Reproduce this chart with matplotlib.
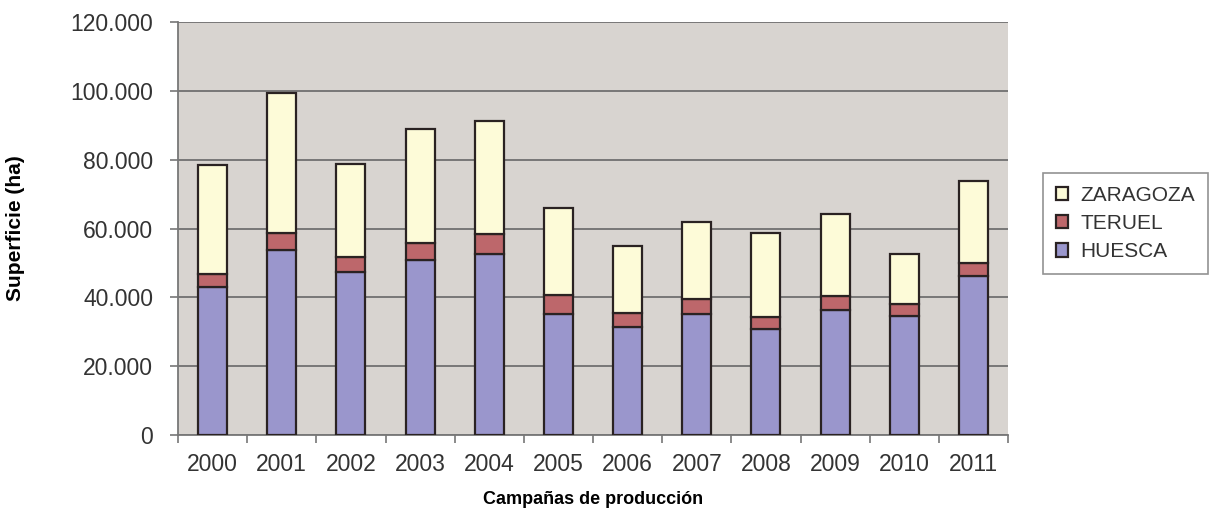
import numpy as np
import matplotlib.pyplot as plt
from matplotlib.ticker import FuncFormatter, FixedLocator

# Superficie por provincia (ha)
years = ["2000", "2001", "2002", "2003", "2004", "2005",
         "2006", "2007", "2008", "2009", "2010", "2011"]
huesca = [43000, 53800, 47500, 50900, 52500, 35200, 31300, 35200, 30700, 36300, 34700, 46200]
teruel = [3700, 4800, 4300, 4800, 5900, 5500, 4100, 4200, 3500, 4100, 3300, 3800]
zaragoza = [31800, 40700, 27000, 33200, 33000, 25200, 19500, 22600, 24600, 23700, 14500, 23800]

plt.rcParams['font.family'] = ['Liberation Sans', 'DejaVu Sans']

fig = plt.figure(figsize=(12.32, 5.15), dpi=100)
ax = fig.add_axes([0.1445, 0.1553, 0.6737, 0.8017])
ax.set_facecolor("#d8d4d0")

x = np.arange(len(years))
w = 0.42
edge = "#2a2222"
h = np.array(huesca)
t = np.array(teruel)
z = np.array(zaragoza)
b1 = ax.bar(x, h, w, color="#9a96cc", edgecolor=edge, linewidth=1.6, label="HUESCA", zorder=3)
b2 = ax.bar(x, t, w, bottom=h, color="#bd676b", edgecolor=edge, linewidth=1.6, label="TERUEL", zorder=3)
b3 = ax.bar(x, z, w, bottom=h + t, color="#fdfbd8", edgecolor=edge, linewidth=1.6, label="ZARAGOZA", zorder=3)

ax.set_xlim(-0.5, len(years) - 0.5)
ax.set_ylim(0, 120000)
ax.set_yticks(np.arange(0, 120001, 20000))
ax.yaxis.set_major_formatter(FuncFormatter(lambda v, p: f"{int(v):,}".replace(",", ".")))
ax.yaxis.grid(True, color="#707070", linewidth=1.3, zorder=1)

ax.set_xticks(x)
ax.set_xticklabels(years)
ax.xaxis.set_minor_locator(FixedLocator(np.arange(-0.5, len(years), 1.0)))
ax.tick_params(axis="x", which="major", length=0, labelsize=16.5, pad=13, colors="#333333")
ax.tick_params(axis="x", which="minor", length=6, width=1.2, color="#777777")
ax.tick_params(axis="y", length=6, width=1.2, color="#777777", labelsize=16.5, labelcolor="#333333", pad=12)

for s in ["top", "right"]:
    ax.spines[s].set_visible(False)
for s in ["left", "bottom"]:
    ax.spines[s].set_color("#777777")
    ax.spines[s].set_linewidth(1.3)

ax.set_xlabel("Campañas de producción", fontsize=13, fontweight="bold")
ax.xaxis.set_label_coords(0.5, -0.135)
ax.set_ylabel("Superficie (ha)", fontsize=15, fontweight="bold")
ax.yaxis.set_label_coords(-0.184, 0.5)

handles = [b3, b2, b1]
leg = fig.legend(handles, ["ZARAGOZA", "TERUEL", "HUESCA"], loc="upper left",
                 bbox_to_anchor=(0.8466, 0.664), frameon=True, fancybox=False,
                 fontsize=15, handlelength=0.6, handleheight=0.6, handletextpad=0.6,
                 labelspacing=0.45, borderpad=0.6, borderaxespad=0)
leg.get_frame().set_edgecolor("#777777")
leg.get_frame().set_linewidth(1.2)
for txt in leg.get_texts():
    txt.set_color("#333333")

fig.savefig("out.png", dpi=100)
